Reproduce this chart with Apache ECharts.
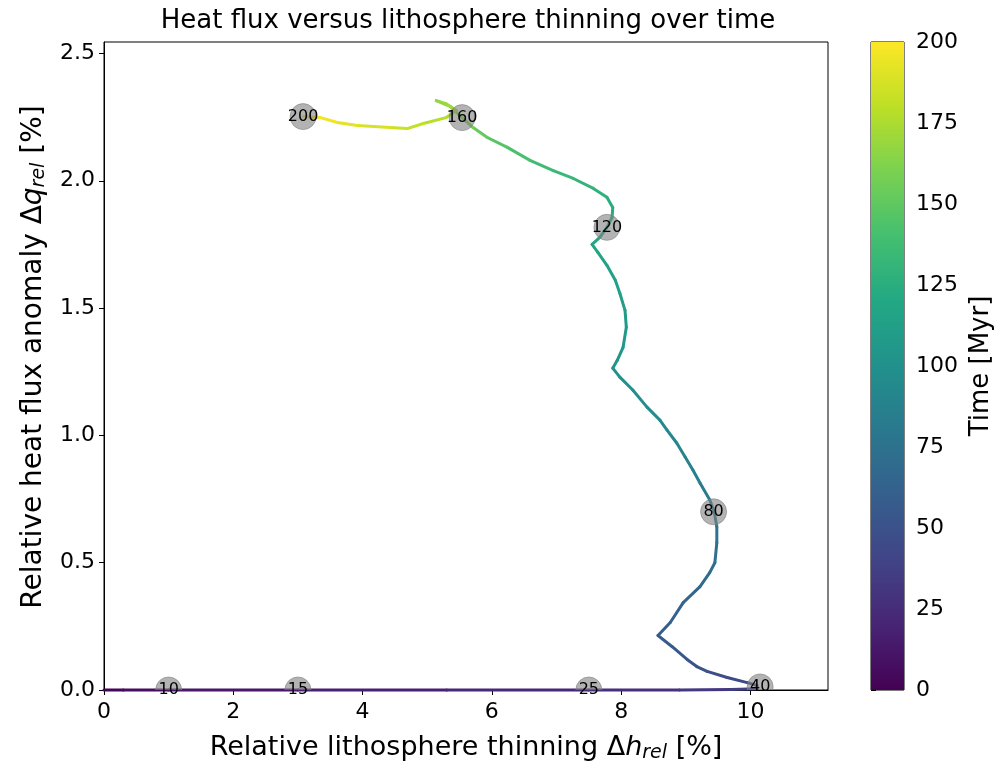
<!DOCTYPE html>
<html>
<head>
<meta charset="utf-8">
<script src="https://cdn.jsdelivr.net/npm/echarts@6/dist/echarts.min.js"></script>
<style>html,body{margin:0;padding:0;background:#fff}#chart{width:996px;height:766px}</style>
</head>
<body>
<div id="chart"></div>
<script>
// ---- data ----
const pathT = [0,5,10,15,20,25,30,35,40,
  41,43,46,49,51,53,56,58,61,64,67,70,72,75,78,80,
  82,85,87,89,91,93,95,97,99,101,103,104,106,108,110,112,113,115,117,118,119,120,
  122,124,126,129,132,135,139,144,150,155,160,
  163,167,170,173,176,180,183,186,190,194,197,200];
const pathX = [0,0.3,1.0,3.0,5.3,7.5,8.9,9.7,10.1,
  10.10,9.95,9.64,9.33,9.17,9.02,8.79,8.57,8.76,8.96,9.22,9.37,9.45,9.48,9.48,9.44,
  9.37,9.22,9.11,8.99,8.86,8.71,8.60,8.40,8.18,7.98,7.87,7.94,8.03,8.08,8.06,7.98,7.91,7.78,7.64,7.55,7.67,7.78,
  7.86,7.87,7.78,7.57,7.26,6.95,6.59,6.24,5.93,5.71,5.54,
  5.36,5.14,5.29,5.45,5.29,4.94,4.69,4.43,3.92,3.61,3.35,3.08];
const pathY = [0,0,0,0,0,0,0,0.002,0.005,
  0.018,0.029,0.049,0.073,0.092,0.120,0.170,0.214,0.265,0.343,0.406,0.461,0.500,0.578,0.641,0.700,
  0.747,0.813,0.864,0.915,0.970,1.021,1.060,1.111,1.178,1.229,1.264,1.295,1.346,1.425,1.491,1.558,1.609,1.668,1.719,1.750,1.778,1.817,
  1.856,1.895,1.935,1.970,2.009,2.040,2.080,2.131,2.170,2.209,2.248,
  2.291,2.315,2.303,2.276,2.248,2.225,2.205,2.209,2.217,2.229,2.248,2.252];

const markerT = [10,15,25,40,80,120,160,200];
const markerX = [1.0,3.0,7.5,10.15,9.43,7.78,5.54,3.08];
const markerY = [0,0,0,0.012,0.700,1.817,2.248,2.252];

const xTicks = [0,2,4,6,8,10];
const yTicks = [0,0.5,1.0,1.5,2.0,2.5];
const cbTicks = [0,25,50,75,100,125,150,175,200];

const viridis = ['#440154','#482475','#414487','#355f8d','#2a788e','#21918c','#22a884','#44bf70','#7ad151','#bddf26','#fde725'];

// ---- build series data ----
const segData = [];
for (let i = 0; i < pathT.length - 1; i++) {
  segData.push([pathX[i], pathY[i], (pathT[i] + pathT[i+1]) / 2, pathX[i+1], pathY[i+1]]);
}
const markerData = markerT.map((t, i) => [markerX[i], markerY[i], t]);

const FONT = 'DejaVu Sans';
const TICK_SIZE = 22;
const chart = echarts.init(document.getElementById('chart'), null, {renderer: 'canvas'});

function nameRich(size, subSize, pad) {
  return {
    i: {fontStyle: 'italic', fontSize: size, fontFamily: FONT, color: '#000'},
    sub: {fontStyle: 'italic', fontSize: subSize, fontFamily: FONT, color: '#000', padding: [pad, 0, 0, 0]}
  };
}

chart.setOption({
  animation: false,
  backgroundColor: '#fff',
  title: {
    text: 'Heat flux versus lithosphere thinning over time',
    left: 463, top: 3, textAlign: 'center',
    textStyle: {fontFamily: FONT, fontSize: 26, fontWeight: 'normal', color: '#000'}
  },
  visualMap: {
    type: 'continuous', show: false, dimension: 2, min: 0, max: 200, seriesIndex: 0,
    inRange: {color: viridis}
  },
  grid: [
    {left: 104, top: 42, width: 724, height: 648, show: true, borderColor: '#000', borderWidth: 1,
      backgroundColor: 'transparent', containLabel: false, outerBoundsMode: 'none'},
    {left: 871, top: 42, width: 33, height: 648, show: true, borderColor: '#000', borderWidth: 1,
      backgroundColor: 'transparent', containLabel: false, outerBoundsMode: 'none'}
  ],
  xAxis: [
    {
      gridIndex: 0, type: 'value', min: 0, max: 11.2,
      axisLine: {show: true, onZero: false, lineStyle: {color: '#000', width: 1}},
      axisTick: {show: true, length: 5, lineStyle: {color: '#000'}, customValues: xTicks},
      axisLabel: {fontFamily: FONT, fontSize: TICK_SIZE, color: '#000', margin: 11, customValues: xTicks},
      splitLine: {show: false},
      name: 'Relative lithosphere thinning Δ{i|h}{sub|rel} [%]',
      nameLocation: 'middle', nameGap: 42,
      nameTextStyle: {fontFamily: FONT, fontSize: 27, color: '#000', rich: nameRich(27, 19, 12)}
    },
    {gridIndex: 1, type: 'value', min: 0, max: 1, show: false}
  ],
  yAxis: [
    {
      gridIndex: 0, type: 'value', min: 0, max: 2.545,
      axisLine: {show: true, onZero: false, lineStyle: {color: '#000', width: 1}},
      axisTick: {show: true, length: 5, lineStyle: {color: '#000'}, customValues: yTicks},
      axisLabel: {fontFamily: FONT, fontSize: TICK_SIZE, color: '#000', margin: 9, customValues: yTicks,
        formatter: v => v.toFixed(1)},
      splitLine: {show: false},
      name: 'Relative heat flux anomaly Δ{i|q}{sub|rel} [%]',
      nameLocation: 'middle', nameGap: 55, nameRotate: 90,
      nameTextStyle: {fontFamily: FONT, fontSize: 28, color: '#000', padding: [0, 0, 0, 18],
        rich: nameRich(28, 19, 12)}
    },
    {
      gridIndex: 1, type: 'value', min: 0, max: 200, interval: 25, position: 'right',
      axisLine: {show: false},
      axisTick: {show: true, length: 5, lineStyle: {color: '#000'}},
      axisLabel: {fontFamily: FONT, fontSize: TICK_SIZE, color: '#000', margin: 12},
      splitLine: {show: false},
      name: 'Time [Myr]', nameLocation: 'middle', nameGap: 64, nameRotate: 90,
      nameTextStyle: {fontFamily: FONT, fontSize: 26, color: '#000'}
    }
  ],
  series: [
    {
      type: 'custom', xAxisIndex: 0, yAxisIndex: 0, z: 3,
      data: segData,
      encode: {x: [0, 3], y: [1, 4]},
      renderItem: function (params, api) {
        const p1 = api.coord([api.value(0), api.value(1)]);
        const p2 = api.coord([api.value(3), api.value(4)]);
        return {
          type: 'line',
          shape: {x1: p1[0], y1: p1[1], x2: p2[0], y2: p2[1]},
          style: {stroke: api.visual('color'), lineWidth: 3, lineCap: 'round'}
        };
      }
    },
    {
      type: 'custom', xAxisIndex: 0, yAxisIndex: 0, z: 5,
      data: markerData,
      encode: {x: 0, y: 1},
      renderItem: function (params, api) {
        const p = api.coord([api.value(0), api.value(1)]);
        const cs = params.coordSys;
        return {
          type: 'group',
          children: [
            {
              type: 'circle',
              shape: {cx: p[0], cy: p[1], r: 13},
              style: {fill: 'rgba(128,128,128,0.6)', stroke: 'rgba(128,128,128,0.6)', lineWidth: 1},
              clipPath: {type: 'rect', shape: {x: cs.x, y: cs.y, width: cs.width, height: cs.height}}
            },
            {
              type: 'text', x: p[0], y: p[1],
              style: {text: String(api.value(2)), fill: '#000', font: '16px "DejaVu Sans"',
                align: 'center', verticalAlign: 'middle', textAlign: 'center', textVerticalAlign: 'middle'}
            }
          ]
        };
      }
    },
    {
      type: 'custom', xAxisIndex: 1, yAxisIndex: 1, z: 2,
      data: [[0, 0, 1, 200]],
      renderItem: function (params, api) {
        const a = api.coord([api.value(0), api.value(1)]);
        const b = api.coord([api.value(2), api.value(3)]);
        return {
          type: 'rect',
          shape: {x: a[0], y: b[1], width: b[0] - a[0], height: a[1] - b[1]},
          style: {
            fill: {
              type: 'linear', x: 0, y: 1, x2: 0, y2: 0,
              colorStops: viridis.map((c, i) => ({offset: i / (viridis.length - 1), color: c}))
            }
          }
        };
      }
    }
  ]
});
</script>
</body>
</html>
